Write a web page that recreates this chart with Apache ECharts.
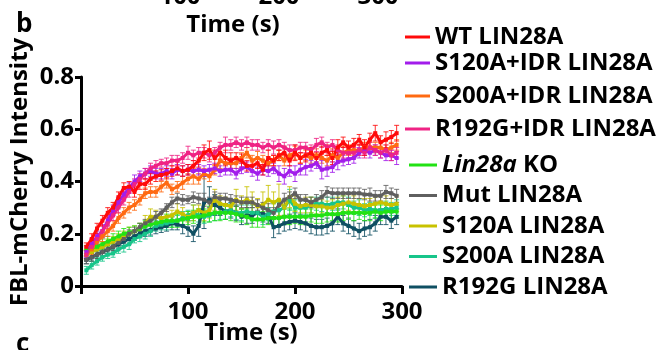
<!DOCTYPE html>
<html>
<head>
<meta charset="utf-8">
<script src="https://cdn.jsdelivr.net/npm/echarts@6/dist/echarts.min.js"></script>
<style>
  html, body { margin: 0; padding: 0; background: #fff; }
  #chart { width: 662px; height: 350px; }
</style>
</head>
<body>
<div id="chart"></div>
<script>
// Sampling times (s)
const times = [
  5, 10, 15, 20, 25, 30, 35, 40, 45, 50,
  55, 60, 65, 70, 75, 80, 85, 90, 95, 100,
  105, 110, 115, 120, 125, 130, 135, 140, 145, 150,
  155, 160, 165, 170, 175, 180, 185, 190, 195, 200,
  205, 210, 215, 220, 225, 230, 235, 240, 245, 250,
  255, 260, 265, 270, 275, 280, 285, 290, 295
];

// Mean FBL-mCherry intensity per construct
const wtLin28a = [
  0.15, 0.18, 0.22, 0.25, 0.28, 0.30, 0.34, 0.375, 0.38, 0.36,
  0.39, 0.39, 0.41, 0.42, 0.425, 0.43, 0.44, 0.45, 0.44, 0.445,
  0.46, 0.48, 0.51, 0.52, 0.49, 0.51, 0.49, 0.48, 0.49, 0.48,
  0.46, 0.46, 0.47, 0.445, 0.49, 0.48, 0.50, 0.51, 0.48, 0.51,
  0.49, 0.50, 0.51, 0.49, 0.51, 0.52, 0.49, 0.53, 0.55, 0.53,
  0.54, 0.56, 0.53, 0.56, 0.585, 0.55, 0.56, 0.57, 0.585
];
const s120aIdr = [
  0.13, 0.16, 0.19, 0.21, 0.25, 0.29, 0.32, 0.35, 0.375, 0.40,
  0.42, 0.43, 0.44, 0.43, 0.43, 0.44, 0.43, 0.445, 0.44, 0.445,
  0.44, 0.445, 0.44, 0.445, 0.45, 0.44, 0.445, 0.445, 0.43, 0.45,
  0.455, 0.44, 0.43, 0.445, 0.44, 0.45, 0.43, 0.42, 0.44, 0.43,
  0.445, 0.455, 0.46, 0.47, 0.445, 0.45, 0.455, 0.475, 0.48, 0.485,
  0.49, 0.51, 0.52, 0.51, 0.52, 0.51, 0.50, 0.50, 0.49
];
const s200aIdr = [
  0.12, 0.14, 0.17, 0.19, 0.21, 0.23, 0.26, 0.28, 0.30, 0.31,
  0.33, 0.355, 0.36, 0.36, 0.38, 0.395, 0.37, 0.38, 0.395, 0.41,
  0.42, 0.41, 0.43, 0.42, 0.445, 0.48, 0.47, 0.47, 0.47, 0.49,
  0.51, 0.48, 0.49, 0.48, 0.47, 0.48, 0.50, 0.48, 0.50, 0.51,
  0.49, 0.50, 0.49, 0.50, 0.49, 0.48, 0.50, 0.49, 0.51, 0.52,
  0.52, 0.52, 0.53, 0.53, 0.53, 0.53, 0.52, 0.53, 0.54
];
const r192gIdr = [
  0.12, 0.15, 0.18, 0.21, 0.24, 0.27, 0.30, 0.33, 0.36, 0.39,
  0.41, 0.43, 0.45, 0.46, 0.47, 0.47, 0.48, 0.48, 0.49, 0.51,
  0.50, 0.51, 0.51, 0.50, 0.51, 0.53, 0.54, 0.54, 0.55, 0.54,
  0.55, 0.54, 0.54, 0.53, 0.54, 0.53, 0.54, 0.53, 0.52, 0.52,
  0.53, 0.53, 0.52, 0.54, 0.55, 0.53, 0.54, 0.52, 0.51, 0.51,
  0.51, 0.52, 0.51, 0.53, 0.52, 0.51, 0.52, 0.50, 0.51
];
const lin28aKo = [
  0.14, 0.145, 0.15, 0.16, 0.17, 0.18, 0.19, 0.20, 0.205, 0.21,
  0.22, 0.23, 0.235, 0.24, 0.245, 0.25, 0.25, 0.25, 0.255, 0.26,
  0.265, 0.265, 0.27, 0.275, 0.28, 0.28, 0.28, 0.28, 0.275, 0.27,
  0.265, 0.255, 0.255, 0.255, 0.26, 0.26, 0.26, 0.265, 0.265, 0.265,
  0.265, 0.265, 0.27, 0.27, 0.27, 0.275, 0.275, 0.275, 0.28, 0.28,
  0.28, 0.28, 0.28, 0.28, 0.285, 0.28, 0.285, 0.285, 0.285
];
const mutLin28a = [
  0.10, 0.11, 0.12, 0.13, 0.14, 0.15, 0.165, 0.18, 0.20, 0.21,
  0.225, 0.24, 0.25, 0.265, 0.28, 0.30, 0.32, 0.335, 0.33, 0.33,
  0.34, 0.335, 0.33, 0.32, 0.34, 0.335, 0.335, 0.33, 0.325, 0.32,
  0.32, 0.32, 0.31, 0.30, 0.29, 0.28, 0.31, 0.33, 0.34, 0.355,
  0.33, 0.33, 0.32, 0.33, 0.34, 0.36, 0.355, 0.355, 0.355, 0.355,
  0.355, 0.355, 0.35, 0.35, 0.345, 0.345, 0.36, 0.355, 0.345
];
const s120a = [
  0.12, 0.13, 0.14, 0.15, 0.16, 0.17, 0.18, 0.19, 0.20, 0.21,
  0.22, 0.24, 0.265, 0.265, 0.26, 0.265, 0.27, 0.285, 0.275, 0.265,
  0.28, 0.29, 0.28, 0.29, 0.33, 0.315, 0.31, 0.305, 0.33, 0.32,
  0.33, 0.32, 0.305, 0.31, 0.33, 0.32, 0.33, 0.30, 0.34, 0.315,
  0.305, 0.31, 0.31, 0.305, 0.305, 0.30, 0.30, 0.31, 0.315, 0.32,
  0.315, 0.31, 0.305, 0.31, 0.315, 0.32, 0.315, 0.31, 0.315
];
const s200a = [
  0.06, 0.08, 0.095, 0.11, 0.12, 0.125, 0.14, 0.15, 0.16, 0.18,
  0.19, 0.20, 0.21, 0.23, 0.235, 0.24, 0.245, 0.25, 0.26, 0.27,
  0.28, 0.27, 0.265, 0.27, 0.28, 0.28, 0.285, 0.29, 0.28, 0.28,
  0.285, 0.28, 0.28, 0.265, 0.275, 0.285, 0.29, 0.30, 0.33, 0.30,
  0.30, 0.30, 0.31, 0.315, 0.315, 0.31, 0.315, 0.32, 0.32, 0.31,
  0.30, 0.30, 0.29, 0.295, 0.29, 0.29, 0.295, 0.295, 0.30
];
const r192g = [
  0.10, 0.11, 0.12, 0.13, 0.14, 0.15, 0.16, 0.17, 0.18, 0.19,
  0.20, 0.21, 0.215, 0.22, 0.225, 0.23, 0.24, 0.235, 0.23, 0.22,
  0.20, 0.23, 0.32, 0.33, 0.31, 0.30, 0.285, 0.29, 0.28, 0.265,
  0.27, 0.27, 0.28, 0.275, 0.27, 0.225, 0.23, 0.24, 0.245, 0.25,
  0.245, 0.24, 0.23, 0.225, 0.225, 0.23, 0.24, 0.265, 0.24, 0.23,
  0.22, 0.21, 0.22, 0.225, 0.24, 0.265, 0.265, 0.25, 0.265
];

// Standard error of each mean
const wtErr = [
  0.015, 0.02, 0.02, 0.02, 0.02, 0.02, 0.02, 0.02, 0.02, 0.02,
  0.02, 0.02, 0.02, 0.02, 0.02, 0.02, 0.02, 0.025, 0.02, 0.02,
  0.02, 0.025, 0.03, 0.035, 0.03, 0.025, 0.03, 0.03, 0.02, 0.025,
  0.02, 0.02, 0.02, 0.02, 0.03, 0.02, 0.02, 0.025, 0.02, 0.03,
  0.02, 0.025, 0.02, 0.02, 0.025, 0.02, 0.025, 0.03, 0.02, 0.025,
  0.025, 0.02, 0.03, 0.025, 0.03, 0.025, 0.03, 0.025, 0.03
];
const s120aIdrErr = [
  0.02, 0.02, 0.02, 0.025, 0.02, 0.02, 0.02, 0.02, 0.02, 0.025,
  0.02, 0.02, 0.02, 0.02, 0.02, 0.02, 0.02, 0.02, 0.02, 0.02,
  0.02, 0.02, 0.02, 0.02, 0.02, 0.02, 0.02, 0.02, 0.02, 0.02,
  0.02, 0.02, 0.025, 0.02, 0.02, 0.02, 0.03, 0.03, 0.02, 0.03,
  0.02, 0.03, 0.02, 0.02, 0.035, 0.03, 0.02, 0.03, 0.02, 0.02,
  0.02, 0.02, 0.02, 0.02, 0.02, 0.02, 0.02, 0.02, 0.025
];
const s200aIdrErr = [
  0.015, 0.02, 0.02, 0.02, 0.02, 0.02, 0.02, 0.02, 0.02, 0.02,
  0.02, 0.02, 0.02, 0.02, 0.02, 0.02, 0.02, 0.02, 0.025, 0.02,
  0.03, 0.02, 0.02, 0.02, 0.02, 0.03, 0.025, 0.02, 0.02, 0.02,
  0.02, 0.02, 0.025, 0.02, 0.025, 0.02, 0.02, 0.02, 0.02, 0.025,
  0.02, 0.02, 0.02, 0.025, 0.02, 0.02, 0.025, 0.02, 0.025, 0.02,
  0.02, 0.02, 0.02, 0.02, 0.02, 0.02, 0.02, 0.02, 0.02
];
const r192gIdrErr = [
  0.015, 0.015, 0.02, 0.02, 0.02, 0.02, 0.02, 0.02, 0.02, 0.02,
  0.02, 0.02, 0.02, 0.02, 0.015, 0.02, 0.02, 0.02, 0.02, 0.025,
  0.02, 0.02, 0.02, 0.025, 0.02, 0.02, 0.03, 0.02, 0.02, 0.02,
  0.02, 0.02, 0.02, 0.02, 0.02, 0.025, 0.02, 0.02, 0.02, 0.02,
  0.02, 0.02, 0.02, 0.025, 0.02, 0.02, 0.02, 0.02, 0.02, 0.02,
  0.02, 0.02, 0.02, 0.02, 0.02, 0.02, 0.02, 0.02, 0.02
];
const lin28aKoErr = [
  0.015, 0.015, 0.015, 0.02, 0.02, 0.02, 0.02, 0.02, 0.02, 0.02,
  0.02, 0.02, 0.025, 0.02, 0.02, 0.025, 0.025, 0.025, 0.02, 0.025,
  0.025, 0.03, 0.025, 0.03, 0.03, 0.03, 0.025, 0.03, 0.03, 0.025,
  0.03, 0.03, 0.03, 0.03, 0.025, 0.03, 0.03, 0.03, 0.03, 0.025,
  0.03, 0.03, 0.025, 0.03, 0.03, 0.03, 0.025, 0.03, 0.03, 0.025,
  0.03, 0.025, 0.03, 0.03, 0.025, 0.03, 0.025, 0.03, 0.025
];
const mutLin28aErr = [
  0.015, 0.015, 0.015, 0.015, 0.015, 0.015, 0.015, 0.015, 0.015, 0.015,
  0.015, 0.015, 0.015, 0.02, 0.015, 0.015, 0.02, 0.02, 0.02, 0.015,
  0.02, 0.02, 0.025, 0.02, 0.02, 0.02, 0.02, 0.02, 0.02, 0.02,
  0.02, 0.02, 0.02, 0.02, 0.025, 0.02, 0.02, 0.025, 0.02, 0.02,
  0.02, 0.02, 0.02, 0.02, 0.025, 0.02, 0.02, 0.02, 0.02, 0.02,
  0.02, 0.02, 0.02, 0.025, 0.02, 0.02, 0.025, 0.02, 0.025
];
const s120aErr = [
  0.02, 0.02, 0.02, 0.02, 0.02, 0.02, 0.02, 0.02, 0.025, 0.02,
  0.02, 0.03, 0.03, 0.025, 0.02, 0.03, 0.02, 0.03, 0.025, 0.02,
  0.03, 0.02, 0.03, 0.03, 0.04, 0.03, 0.03, 0.025, 0.04, 0.025,
  0.05, 0.04, 0.03, 0.05, 0.055, 0.04, 0.06, 0.03, 0.04, 0.03,
  0.025, 0.03, 0.03, 0.03, 0.025, 0.025, 0.03, 0.03, 0.03, 0.03,
  0.03, 0.025, 0.03, 0.025, 0.025, 0.03, 0.03, 0.025, 0.03
];
const s200aErr = [
  0.015, 0.015, 0.015, 0.015, 0.015, 0.015, 0.015, 0.02, 0.02, 0.015,
  0.02, 0.02, 0.02, 0.02, 0.02, 0.025, 0.02, 0.02, 0.025, 0.02,
  0.03, 0.025, 0.025, 0.025, 0.03, 0.025, 0.03, 0.025, 0.025, 0.03,
  0.025, 0.03, 0.025, 0.03, 0.025, 0.03, 0.03, 0.03, 0.04, 0.03,
  0.03, 0.025, 0.03, 0.025, 0.03, 0.03, 0.025, 0.03, 0.025, 0.03,
  0.025, 0.03, 0.025, 0.025, 0.03, 0.025, 0.03, 0.025, 0.03
];
const r192gErr = [
  0.015, 0.015, 0.015, 0.015, 0.015, 0.015, 0.015, 0.015, 0.02, 0.015,
  0.015, 0.02, 0.02, 0.02, 0.02, 0.02, 0.025, 0.02, 0.03, 0.03,
  0.03, 0.04, 0.10, 0.05, 0.04, 0.03, 0.03, 0.03, 0.03, 0.03,
  0.03, 0.03, 0.03, 0.03, 0.03, 0.04, 0.03, 0.03, 0.03, 0.03,
  0.03, 0.03, 0.03, 0.03, 0.03, 0.03, 0.03, 0.03, 0.03, 0.03,
  0.03, 0.03, 0.03, 0.03, 0.03, 0.03, 0.03, 0.03, 0.03
];

// Tick values
const xTicks = [0, 100, 200, 300];
const yTicks = [0, 0.2, 0.4, 0.6, 0.8];

// Draw order: later entries paint on top
const groups = [
  { name: 'R192G LIN28A',     values: r192g,     errors: r192gErr,     color: '#0F4F62' },
  { name: 'S200A LIN28A',     values: s200a,     errors: s200aErr,     color: '#17C58A' },
  { name: 'S120A LIN28A',     values: s120a,     errors: s120aErr,     color: '#C8C200' },
  { name: 'Lin28a KO',        values: lin28aKo,  errors: lin28aKoErr,  color: '#22E214' },
  { name: 'Mut LIN28A',       values: mutLin28a, errors: mutLin28aErr, color: '#5F5F5F' },
  { name: 'S200A+IDR LIN28A', values: s200aIdr,  errors: s200aIdrErr,  color: '#FF6A12' },
  { name: 'S120A+IDR LIN28A', values: s120aIdr,  errors: s120aIdrErr,  color: '#A21DEB' },
  { name: 'R192G+IDR LIN28A', values: r192gIdr,  errors: r192gIdrErr,  color: '#EF2384' },
  { name: 'WT LIN28A',        values: wtLin28a,  errors: wtErr,        color: '#FF0A0A' }
];

const FONT = '"Open Sans", "DejaVu Sans", sans-serif';
const textBase = { fontFamily: FONT, fontWeight: 'bold', fontSize: 24, color: '#000' };

function errorBarSeries(g) {
  return {
    type: 'custom',
    name: g.name + ' SEM',
    silent: true,
    z: 2,
    data: times.map((t, i) => [t, g.values[i] - g.errors[i], g.values[i] + g.errors[i]]),
    encode: { x: 0, y: [1, 2] },
    renderItem: function (params, api) {
      const top = api.coord([api.value(0), api.value(2)]);
      const bot = api.coord([api.value(0), api.value(1)]);
      const half = 2.5;
      const st = { stroke: g.color, lineWidth: 1, opacity: 0.85 };
      return {
        type: 'group',
        children: [
          { type: 'line', shape: { x1: top[0], y1: top[1], x2: bot[0], y2: bot[1] }, style: st },
          { type: 'line', shape: { x1: top[0] - half, y1: top[1], x2: top[0] + half, y2: top[1] }, style: st },
          { type: 'line', shape: { x1: bot[0] - half, y1: bot[1], x2: bot[0] + half, y2: bot[1] }, style: st }
        ]
      };
    }
  };
}

function lineSeries(g) {
  return {
    type: 'line',
    name: g.name,
    z: 3,
    data: times.map((t, i) => [t, g.values[i]]),
    showSymbol: true,
    symbol: 'rect',
    symbolSize: 4,
    color: g.color,
    itemStyle: { color: g.color },
    lineStyle: { color: g.color, width: 3 },
    emphasis: { disabled: true },
    animation: false
  };
}

const series = [];
groups.forEach(g => { series.push(errorBarSeries(g)); series.push(lineSeries(g)); });

function legendBlock(names, top, left, itemWidth, gap) {
  return {
    data: names,
    orient: 'vertical',
    left: left,
    top: top,
    padding: 0,
    itemGap: gap,
    itemWidth: itemWidth,
    itemHeight: 3,
    icon: 'rect',
    selectedMode: false,
    textStyle: Object.assign({}, textBase, {
      lineHeight: 24,
      rich: {
        it: { fontFamily: FONT, fontWeight: 'bold', fontStyle: 'italic', fontSize: 24, lineHeight: 24, color: '#000' }
      }
    }),
    formatter: function (name) {
      return name === 'Lin28a KO' ? '{it|Lin28a} KO' : name;
    }
  };
}

const chart = echarts.init(document.getElementById('chart'), null, { renderer: 'canvas' });
chart.setOption({
  animation: false,
  backgroundColor: '#fff',
  grid: { left: 81, right: 260, top: 77, bottom: 64, containLabel: false },
  xAxis: {
    type: 'value',
    min: xTicks[0],
    max: xTicks[xTicks.length - 1],
    interval: 100,
    splitLine: { show: false },
    axisLine: { show: true, lineStyle: { color: '#000', width: 3 } },
    axisTick: { show: true, length: 8, lineStyle: { color: '#000', width: 3 } },
    axisLabel: Object.assign({}, textBase, {
      margin: 14,
      formatter: function (v) { return v === 0 ? '' : String(v); }
    })
  },
  yAxis: {
    type: 'value',
    min: yTicks[0],
    max: yTicks[yTicks.length - 1],
    interval: 0.2,
    splitLine: { show: false },
    axisLine: { show: true, lineStyle: { color: '#000', width: 3 } },
    axisTick: { show: true, length: 6, lineStyle: { color: '#000', width: 3 } },
    axisLabel: Object.assign({}, textBase, {
      margin: 7,
      formatter: function (v) { return v === 0 ? '0' : v.toFixed(1); }
    })
  },
  legend: [
    legendBlock(['WT LIN28A'], 25, 405, 25, 9),
    legendBlock(['S120A+IDR LIN28A', 'S200A+IDR LIN28A', 'R192G+IDR LIN28A'], 51, 405, 25, 9),
    legendBlock(['Lin28a KO', 'Mut LIN28A', 'S120A LIN28A', 'S200A LIN28A', 'R192G LIN28A'], 153, 409, 28, 6.5)
  ],
  graphic: [
    { type: 'text', left: 16, top: 12, style: Object.assign({ text: 'b' }, textBase, { fill: '#000', fontSize: 26 }) },
    { type: 'text', x: 233, y: 25, style: Object.assign({ text: 'Time (s)', align: 'center', verticalAlign: 'middle', fill: '#000' }, textBase) },
    { type: 'text', x: 180, y: -3, style: Object.assign({ text: '100', align: 'center', verticalAlign: 'middle', fill: '#000' }, textBase) },
    { type: 'text', x: 279, y: -3, style: Object.assign({ text: '200', align: 'center', verticalAlign: 'middle', fill: '#000' }, textBase) },
    { type: 'text', x: 378, y: -3, style: Object.assign({ text: '300', align: 'center', verticalAlign: 'middle', fill: '#000' }, textBase) },
    { type: 'text', x: 251, y: 333, style: Object.assign({ text: 'Time (s)', align: 'center', verticalAlign: 'middle', fill: '#000' }, textBase) },
    { type: 'text', x: 20, y: 172, rotation: Math.PI / 2, style: Object.assign({ text: 'FBL-mCherry Intensity', align: 'center', verticalAlign: 'middle', fill: '#000' }, textBase) },
    { type: 'text', x: 16, y: 345, style: Object.assign({ text: 'c', verticalAlign: 'middle', fill: '#000' }, textBase, { fontSize: 26 }) }
  ],
  series: series
});
</script>
</body>
</html>
